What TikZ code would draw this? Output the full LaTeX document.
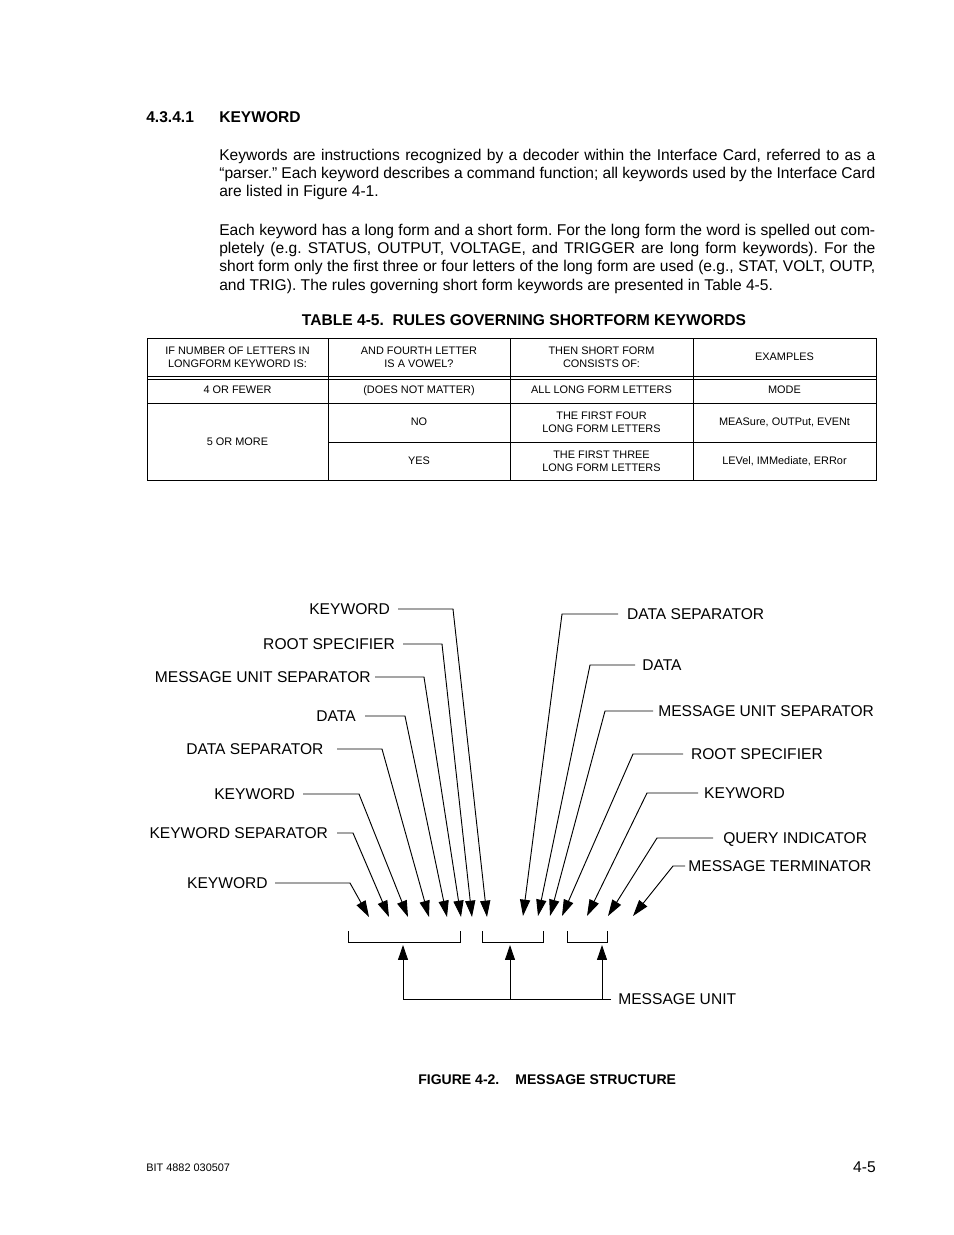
\documentclass[tikz,border=0pt]{standalone}
\usepackage{fontspec}
\setmainfont{Liberation Sans}
\usetikzlibrary{arrows.meta}
\frenchspacing

\begin{document}
\begin{tikzpicture}[
  x=0.6415pt, y=-0.6415pt,
  head/.style={anchor=base west, inner sep=0pt, font=\bfseries\fontsize{10}{12}\selectfont},
  body/.style={anchor=base west, inner sep=0pt, text width=420.8pt, align=justify,
               font=\fontsize{10}{11.85}\selectfont},
  cell/.style={inner sep=0pt, align=center, font=\fontsize{7}{8.3}\selectfont},
  lbl/.style={inner xsep=4.5pt, inner ysep=0pt, text height=7.2pt, text depth=0pt,
              font=\fontsize{10}{12}\selectfont},
  rule/.style={line width=0.6pt},
  lead/.style={line width=0.6pt, -{Triangle[length=10.5pt,width=6.5pt]}},
  uplead/.style={line width=0.6pt, -{Triangle[length=9.6pt,width=6.4pt]}}
]
  \fill[white] (0,0) rectangle (954,1235);
  \useasboundingbox (0,0) rectangle (954,1235);

  % section heading and text
  \node[head] (secno) at (146,122.5) {4.3.4.1};
  \node[head] (sechd) at (219,122.5) {KEYWORD};
  \node[body] (par1) at (219,160) {Keywords are instructions recognized by a decoder within the Interface Card, referred to as a\linebreak
    “parser.” Each keyword describes a command function; all keywords used by the Interface Card\linebreak
    are listed in Figure 4-1.};
  \node[body] (par2) at (219,235) {Each keyword has a long form and a short form. For the long form the word is spelled out com-\linebreak
    pletely (e.g. STATUS, OUTPUT, VOLTAGE, and TRIGGER are long form keywords). For the\linebreak
    short form only the first three or four letters of the long form are used (e.g., STAT, VOLT, OUTP,\linebreak
    and TRIG). The rules governing short form keywords are presented in Table 4-5.};

  % table 4-5
  \node[head, anchor=base] (tabtitle) at (524,325.5) {TABLE 4-5.\ \ RULES GOVERNING SHORTFORM KEYWORDS};
  \draw[rule] (147,338) rectangle (876,480);
  \foreach \yy in {376,379,403} \draw[rule] (147,\yy) -- (876,\yy);
  \draw[rule] (328,442) -- (876,442);
  \foreach \xx in {328,510,693} \draw[rule] (\xx,338) -- (\xx,480);

  \node[cell] (h1) at (237.5,357) {IF NUMBER OF LETTERS IN\\LONGFORM KEYWORD IS:};
  \node[cell] (h2) at (419,357) {AND FOURTH LETTER\\IS A VOWEL?};
  \node[cell] (h3) at (601.5,357) {THEN SHORT FORM\\CONSISTS OF:};
  \node[cell] (h4) at (784.5,357) {EXAMPLES};
  \node[cell] (a1) at (237.5,390) {4 OR FEWER};
  \node[cell] (a2) at (419,391) {(DOES NOT MATTER)};
  \node[cell] (a3) at (601.5,390) {ALL LONG FORM LETTERS};
  \node[cell] (a4) at (784.5,390) {MODE};
  \node[cell] (b1) at (237.5,442) {5 OR MORE};
  \node[cell] (b2) at (419,422) {NO};
  \node[cell] (b3) at (601.5,422) {THE FIRST FOUR\\LONG FORM LETTERS};
  \node[cell] (b4) at (784.5,422) {MEASure, OUTPut, EVENt};
  \node[cell] (c2) at (419,461) {YES};
  \node[cell] (c3) at (601.5,461) {THE FIRST THREE\\LONG FORM LETTERS};
  \node[cell] (c4) at (784.5,461) {LEVel, IMMediate, ERRor};

  % message structure: left leaders (text/y/line start/corner/tip/gap)
  \foreach \txt/\yy/\xs/\xc/\xt/\g [count=\i] in {
      KEYWORD/609/398/453/487/5, ROOT SPECIFIER/644/403/442/472/5,
      MESSAGE UNIT SEPARATOR/677/375/424/461/2.6, DATA/716/365/405/447/5.8,
      DATA SEPARATOR/749/337/382/429/8.5, KEYWORD/794/303/359/408/5,
      KEYWORD SEPARATOR/833/337/353/389/5.6, KEYWORD/883/275/350/369/4.5} {
    \node[lbl, anchor=east, inner xsep=\g pt] (L\i) at (\xs,\yy) {\txt};
    \coordinate (ltip\i) at (\xt,917);
    \draw[lead] (L\i.east) -- (\xc,\yy) -- (ltip\i);
  }

  % message structure: right leaders
  \foreach \txt/\yy/\xs/\xc/\xt/\g [count=\i] in {
      DATA SEPARATOR/614/618/562/523/5.6, DATA/665/635/590/538/4.5,
      MESSAGE UNIT SEPARATOR/711/653/605/550/3.2, ROOT SPECIFIER/754/683/633/562/5,
      KEYWORD/793/698/647/587/3.8, QUERY INDICATOR/838/713/657/608/6.4,
      MESSAGE TERMINATOR/866/685/673/633/2} {
    \node[lbl, anchor=west, inner xsep=\g pt] (R\i) at (\xs,\yy) {\txt};
    \coordinate (rtip\i) at (\xt,916);
    \draw[lead] (R\i.west) -- (\xc,\yy) -- (rtip\i);
  }

  % message units
  \foreach \xa/\xb in {348/460, 482/543, 567/607}
    \draw[rule] (\xa,931) |- (\xb,942) -- (\xb,931);
  \node[lbl, anchor=west] (munit) at (611,999) {MESSAGE UNIT};
  \coordinate (mu1) at (403,999);
  \coordinate (mu2) at (510,999);
  \coordinate (mu3) at (602,999);
  \draw[rule] (munit.west) -- (mu1);
  \foreach \xx [count=\i] in {403,510,602} {
    \coordinate (unit\i) at (\xx,945);
    \draw[uplead] (mu\i) -- (unit\i);
  }

  % caption and footer
  \node[head, font=\bfseries\fontsize{9}{11}\selectfont] (caption) at (418,1084)
    {FIGURE 4-2.\hspace{10.3pt}MESSAGE STRUCTURE};
  \node[anchor=base west, inner sep=0pt, font=\fontsize{7}{8}\selectfont] (docno) at (146,1171.5) {BIT 4882 030507};
  \node[anchor=base east, inner sep=0pt, font=\fontsize{10}{12}\selectfont] (pageno) at (876,1172.5) {4-5};
\end{tikzpicture}
\end{document}
